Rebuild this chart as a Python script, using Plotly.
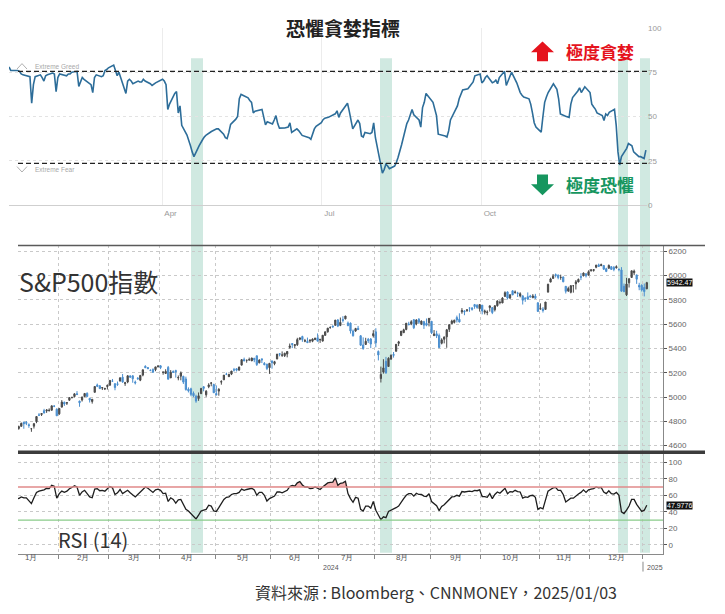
import numpy as np
import pandas as pd
import plotly.graph_objects as go

W, H = 725, 614


def px(x):
    return x / W


def py(y):
    return 1 - y / H


# ---------------------------------------------------------------- data
holidays = ["2024-01-15", "2024-02-19", "2024-03-29", "2024-05-27", "2024-06-19",
            "2024-07-04", "2024-09-02", "2024-11-28", "2024-12-25", "2025-01-01"]
days = pd.bdate_range("2024-01-02", "2025-01-03")
days = days[~days.isin(pd.to_datetime(holidays))]

# CNN fear & greed index, 2024-01-04 .. 2025-01-03
fg_values = [
    78, 76, 76, 76, 75.5, 74, 73.5, 72.5, 57.5, 68, 72.5, 73.5, 72, 70, 73, 73.5, 74.5, 74, 64,
    72, 74, 73, 73, 74, 74, 75, 75.5, 67, 70, 72, 71, 68, 63.5, 72, 73.5, 72.5, 73, 76, 76.5,
    77.5, 79, 76, 73, 75, 72, 63, 70, 71, 70, 68.5, 70, 69.5, 69.5, 71, 70, 68.5, 67.5, 68.5, 69,
    71, 70, 68, 54, 57, 63, 64, 52, 56, 45, 39.5, 37, 33.5, 30, 27.3, 33.5, 35.5, 37, 38.5, 39.5, 41.5, 42,
    42.5, 43, 43, 40, 38, 37.5, 41, 45.5, 48.5, 50, 60, 62.5, 62, 60.5, 59, 58, 52, 53, 54, 50, 45.3, 47,
    45.8, 48, 50.5, 46, 43.4, 43.5, 43.8, 44, 46.4, 41, 43, 42, 39.3, 39, 38, 37.1, 40, 43, 44.5,
    46.5, 48.2, 49, 49.5, 50.8, 51.5, 53.2, 49.5, 52, 56, 57.5, 53, 48, 43, 48, 46, 39, 38.4, 41, 40.3, 41, 46.4,
    38, 33, 18, 20, 23, 22, 20.5, 22, 24, 27, 30, 34, 46, 48, 51, 54, 51, 48, 44, 55, 58, 63,
    58, 54, 50.5, 40, 39.5, 39, 38.4, 42, 48, 54, 56, 60, 63, 65, 65.7, 67, 68.5, 69.5, 73, 74,
    69, 70, 72, 73, 69, 69.5, 70.5, 68.5, 72, 75.5, 67.5, 70, 73, 75, 69, 66, 63.5, 62, 61, 60, 57, 52, 46.5,
    44, 41.2, 50, 58, 61, 63.5, 68.5, 67, 65.3, 60, 51.4, 50.1, 49.8, 49.5, 57, 60.7, 64.4, 66.2, 63.5, 66.8,
    63.5, 57, 55.5, 54.2, 52, 50.5, 47.7, 51.4, 50.5, 52.3, 54, 45, 30, 22.6, 27.3, 32, 34.7, 33.5, 30, 27.3, 27.3,
    26.3, 31,
]

# S&P 500 daily bars, 2024-01-02 .. 2025-01-03
sp_open = [
    4745, 4726, 4697, 4690, 4703, 4742, 4759, 4792, 4792, 4772, 4739, 4760, 4797, 4853, 4856, 4888, 4886, 4888, 4892, 4926, 4900,
    4862, 4917, 4957, 4950, 4974, 4996, 5004, 5027, 4967, 4976, 5004, 5031, 4989, 4964, 5039, 5100, 5093, 5074, 5067, 5086,
    5098, 5131, 5110, 5109, 5132, 5164, 5111, 5124, 5174, 5175, 5124, 5154, 5139, 5181, 5254, 5243, 5219, 5228, 5226, 5248,
    5257, 5204, 5194, 5244, 5158, 5212, 5218, 5157, 5172, 5171, 5149, 5065, 5068, 5031, 5006, 4988, 5028, 5085, 5019, 5085, 5114, 5103,
    5029, 5049, 5123, 5142, 5188, 5168, 5189, 5225, 5233, 5222, 5263, 5310, 5303, 5305, 5298, 5319, 5340, 5282, 5315, 5278, 5271, 5243,
    5297, 5275, 5314, 5357, 5344, 5341, 5354, 5409, 5441, 5424, 5431, 5476, 5499, 5460, 5459, 5461, 5460, 5473, 5488,
    5471, 5461, 5508, 5537, 5572, 5584, 5591, 5635, 5590, 5638, 5644, 5610, 5609, 5544, 5544, 5566, 5505, 5429, 5433, 5476, 5478, 5505,
    5537, 5376, 5152, 5206, 5294, 5252, 5313, 5351, 5377, 5442, 5508, 5530, 5557, 5602, 5603, 5637, 5602, 5640, 5602, 5621, 5607, 5613,
    5624, 5506, 5521, 5507, 5443, 5476, 5496, 5558, 5604, 5615, 5655, 5641, 5702, 5709, 5711, 5733, 5733, 5762, 5756, 5727,
    5757, 5698, 5696, 5737, 5737, 5719, 5752, 5778, 5775, 5829, 5866, 5816, 5875, 5860, 5857, 5833, 5834, 5817, 5827, 5833, 5819, 5832, 5776,
    5724, 5725, 5722, 5864, 5947, 5977, 6009, 6004, 5985, 5989, 5912, 5874, 5863, 5917, 5933, 5948, 5992, 6000, 6015, 6004,
    6040, 6042, 6069, 6089, 6082, 6083, 6057, 6060, 6074, 6068, 6064, 6053, 6047, 5913, 5842, 5941, 5985, 6024, 6006, 5920, 5920,
    5903, 5892,
]
sp_high = [
    4755, 4729, 4727, 4722, 4764, 4765, 4790, 4798, 4802, 4783, 4744, 4785, 4843, 4868, 4866, 4903, 4898, 4907, 4929, 4932, 4907,
    4906, 4975, 4963, 4957, 4999, 5000, 5031, 5049, 4970, 5003, 5033, 5039, 4994, 4983, 5087, 5111, 5097, 5081, 5077, 5104,
    5140, 5149, 5114, 5128, 5165, 5190, 5125, 5179, 5180, 5180, 5136, 5165, 5181, 5226, 5261, 5246, 5229, 5236, 5249, 5264,
    5263, 5209, 5229, 5256, 5222, 5219, 5225, 5178, 5211, 5175, 5168, 5080, 5077, 5046, 5019, 5038, 5076, 5089, 5057, 5114, 5123, 5110,
    5096, 5073, 5139, 5181, 5201, 5191, 5215, 5240, 5237, 5251, 5311, 5325, 5305, 5325, 5324, 5323, 5341, 5311, 5315, 5288, 5274, 5281,
    5302, 5298, 5354, 5362, 5376, 5365, 5375, 5441, 5441, 5433, 5488, 5490, 5505, 5479, 5490, 5472, 5483, 5491, 5524,
    5479, 5510, 5540, 5570, 5583, 5590, 5635, 5642, 5655, 5666, 5669, 5622, 5614, 5556, 5570, 5586, 5509, 5492, 5488, 5487, 5486, 5551,
    5567, 5384, 5251, 5312, 5331, 5328, 5351, 5371, 5436, 5463, 5544, 5563, 5608, 5620, 5633, 5643, 5641, 5651, 5631, 5628, 5647, 5651,
    5626, 5552, 5546, 5523, 5484, 5497, 5561, 5600, 5637, 5637, 5671, 5690, 5733, 5716, 5720, 5736, 5741, 5767, 5765, 5765,
    5757, 5720, 5714, 5753, 5739, 5757, 5796, 5796, 5823, 5871, 5870, 5846, 5879, 5878, 5867, 5863, 5834, 5817, 5862, 5842, 5848, 5850, 5780,
    5772, 5741, 5783, 5933, 5983, 6013, 6018, 6010, 6008, 5993, 5915, 5909, 5922, 5920, 5964, 5976, 6020, 6026, 6020, 6044,
    6053, 6052, 6089, 6099, 6099, 6088, 6065, 6092, 6079, 6079, 6085, 6058, 6070, 5935, 5982, 5979, 6041, 6050, 6007, 5941, 5929,
    5935, 5949,
]
sp_low = [
    4723, 4700, 4687, 4682, 4700, 4731, 4756, 4739, 4769, 4747, 4714, 4741, 4785, 4844, 4844, 4866, 4870, 4881, 4888, 4917, 4845,
    4853, 4917, 4927, 4935, 4970, 4988, 4998, 5016, 4920, 4963, 5000, 4999, 4955, 4946, 5039, 5082, 5068, 5058, 5058, 5062,
    5094, 5127, 5056, 5092, 5128, 5118, 5092, 5114, 5157, 5118, 5104, 5145, 5131, 5171, 5240, 5230, 5216, 5203, 5213, 5246,
    5230, 5184, 5194, 5146, 5157, 5198, 5160, 5138, 5138, 5108, 5053, 5038, 5007, 4999, 4953, 4969, 5028, 5047, 5002, 5073, 5089, 5035,
    5013, 5011, 5102, 5142, 5181, 5166, 5181, 5210, 5211, 5216, 5263, 5296, 5283, 5300, 5297, 5287, 5256, 5278, 5280, 5262, 5222, 5191,
    5234, 5262, 5311, 5335, 5331, 5330, 5327, 5399, 5403, 5404, 5421, 5468, 5455, 5452, 5447, 5446, 5452, 5470, 5460,
    5446, 5458, 5508, 5531, 5563, 5575, 5587, 5576, 5584, 5614, 5640, 5584, 5523, 5498, 5537, 5554, 5423, 5390, 5430, 5445, 5403, 5490,
    5410, 5302, 5120, 5193, 5192, 5250, 5306, 5325, 5376, 5420, 5502, 5530, 5550, 5590, 5592, 5560, 5591, 5602, 5593, 5561, 5583, 5582,
    5519, 5503, 5486, 5402, 5434, 5442, 5406, 5536, 5604, 5606, 5614, 5615, 5686, 5674, 5703, 5702, 5712, 5727, 5727, 5704,
    5681, 5681, 5674, 5704, 5683, 5705, 5745, 5764, 5774, 5828, 5804, 5808, 5840, 5852, 5824, 5821, 5762, 5784, 5800, 5823, 5814, 5810, 5703,
    5723, 5696, 5722, 5864, 5946, 5977, 5985, 5970, 5966, 5946, 5853, 5866, 5854, 5860, 5886, 5945, 5963, 5993, 5985, 6004,
    6034, 6033, 6061, 6075, 6079, 6048, 6029, 6060, 6051, 6036, 6059, 6036, 5867, 5866, 5832, 5902, 5982, 6004, 5932, 5880, 5869,
    5829, 5888,
]
sp_close = [
    4742.83, 4704.81, 4688.68, 4697.24, 4763.54, 4756.50, 4783.45, 4780.24, 4783.83, 4765.98, 4739.21, 4780.94, 4839.81, 4850.43, 4864.60, 4868.55, 4894.16, 4890.97, 4927.93, 4924.97, 4845.65,
    4906.19, 4958.61, 4942.81, 4954.23, 4995.06, 4997.91, 5026.61, 5021.84, 4953.17, 5000.62, 5029.73, 5005.57, 4975.51, 4981.80, 5087.03, 5088.80, 5069.53, 5078.18, 5069.76, 5096.27,
    5137.08, 5130.95, 5078.65, 5104.76, 5157.36, 5123.69, 5117.94, 5175.27, 5165.31, 5150.48, 5117.09, 5149.42, 5178.51, 5224.62, 5241.53, 5234.18, 5218.19, 5203.58, 5248.49, 5254.35,
    5243.77, 5205.81, 5211.49, 5147.21, 5204.34, 5202.39, 5209.91, 5160.64, 5199.06, 5123.41, 5061.82, 5051.41, 5022.21, 5011.12, 4967.23, 5010.60, 5070.55, 5071.63, 5048.42, 5099.96, 5116.17, 5035.69,
    5018.39, 5064.20, 5127.79, 5180.74, 5187.70, 5187.67, 5214.08, 5222.68, 5221.42, 5246.68, 5308.15, 5297.10, 5303.27, 5308.13, 5321.41, 5307.01, 5267.84, 5304.72, 5306.04, 5266.95, 5235.48, 5277.51,
    5283.40, 5291.34, 5354.03, 5352.96, 5346.99, 5360.79, 5375.32, 5421.03, 5433.74, 5431.60, 5473.23, 5487.03, 5473.17, 5464.62, 5447.87, 5469.30, 5477.90, 5482.87, 5460.48,
    5475.09, 5509.01, 5537.02, 5567.19, 5572.85, 5576.98, 5633.91, 5584.54, 5615.35, 5631.22, 5667.20, 5588.27, 5544.59, 5505.00, 5564.41, 5555.74, 5427.13, 5399.22, 5459.10, 5463.54, 5436.44, 5522.30,
    5446.68, 5346.56, 5186.33, 5240.03, 5199.50, 5319.31, 5344.16, 5344.39, 5434.43, 5455.21, 5543.22, 5554.25, 5608.25, 5597.12, 5620.85, 5570.64, 5634.61, 5616.84, 5625.80, 5592.18, 5591.96, 5648.40,
    5528.93, 5520.07, 5503.41, 5408.42, 5471.05, 5495.52, 5554.13, 5595.76, 5626.02, 5633.09, 5634.58, 5618.26, 5713.64, 5702.55, 5718.57, 5732.93, 5722.26, 5745.37, 5738.17, 5762.48,
    5708.75, 5709.54, 5699.94, 5751.07, 5695.94, 5751.13, 5792.04, 5780.05, 5815.03, 5859.85, 5815.26, 5842.47, 5841.47, 5864.67, 5853.98, 5851.20, 5797.42, 5809.86, 5808.12, 5823.52, 5832.92, 5813.67, 5705.45,
    5728.80, 5712.69, 5782.76, 5929.04, 5973.10, 5995.54, 6001.35, 5983.99, 5985.38, 5949.17, 5870.62, 5893.62, 5916.98, 5917.11, 5948.71, 5969.34, 5987.37, 6021.63, 5998.74, 6032.38,
    6047.15, 6049.88, 6086.49, 6075.11, 6090.27, 6052.85, 6034.91, 6084.19, 6051.25, 6051.09, 6074.08, 6050.61, 5872.16, 5867.08, 5930.85, 5974.07, 6040.04, 6037.59, 5970.84, 5906.94, 5881.63,
    5868.55, 5942.47,
]

# RSI (14), same days
rsi_values = [
    58, 54, 52, 53, 57, 56, 58, 57, 57, 54, 50, 57, 63.5, 65, 66, 66.5, 68.5, 68, 72, 71, 56.5,
    62, 65, 63.5, 65, 68, 69.5, 71.5, 70, 60, 64, 66, 62, 58, 57, 67.5, 68, 65.5, 66, 65, 68,
    70.5, 69, 61, 63, 67, 62, 64, 66, 63, 61, 58, 61, 64, 67.5, 70, 68.5, 66, 63.5, 66.5, 67.5,
    66, 62, 62.5, 52.5, 57, 55, 50.5, 54.5, 55, 48, 43, 41, 38, 35.5, 31.5, 36, 41, 42, 43, 48, 47, 41,
    40.5, 45, 50, 55, 57.5, 58, 61, 62, 62, 63.5, 67.5, 66, 67, 67.5, 68.5, 66.5, 60, 63.5, 63.5, 60, 53, 56,
    58, 59, 64, 64, 63, 64.5, 66, 70.5, 72, 71, 75, 76.5, 72.5, 70, 70, 68, 68.5, 70, 68,
    67, 70, 72.5, 75, 75.5, 76, 81, 72, 74.5, 75, 77, 62, 56, 51.5, 57.5, 56.5, 43, 41, 47, 47, 44.5, 52.5,
    42, 37, 30.5, 34, 33, 40.5, 42, 42.5, 45, 47, 52, 56, 60, 62, 62, 59, 62.5, 61, 61, 59, 58.5, 62,
    52.5, 50, 47.5, 41.5, 46.5, 48.5, 52, 55, 58, 58.5, 60, 59, 64.5, 64, 64.5, 65, 64.5, 66, 65.5, 66.5,
    58.5, 58.5, 57.5, 62, 56, 61, 64, 62.5, 65.5, 68.5, 62, 64.5, 64, 66, 64.5, 64, 56.5, 58, 57.5, 59.5, 60, 57.5, 43,
    45, 43.5, 55, 65, 67, 69, 69.5, 66, 66, 61, 52, 54, 56.5, 56.5, 59.5, 61.5, 63.5, 66.5, 63.5, 66.5,
    67.5, 68, 70, 69, 69.5, 64, 62, 65.5, 62, 61.5, 63.5, 60, 40, 38, 42, 47, 55, 55, 49, 44, 40.5,
    42, 47.9776,
]

month_labels = ["1月", "2月", "3月", "4月", "5月", "6月", "7月", "8月", "9月", "10月", "11月", "12月"]
fg_tick_dates = ["2024-04-01", "2024-07-01", "2024-10-01"]
fg_tick_text = ["Apr", "Jul", "Oct"]

# highlighted periods (pixel columns on the picture)
bands_px = [(191, 203), (380, 392), (618, 628), (640, 650)]

# ---------------------------------------------------------------- helpers
idx = np.arange(len(days))
mkey = np.array(days.year * 100 + days.month)
bounds = [i - 0.5 for i in range(1, len(days)) if mkey[i] != mkey[i - 1]]
centers = [idx[mkey == k].mean() for k in sorted(set(mkey)) if k < 202500]
fg_dates = days[2:]
rsi_arr = np.array(rsi_values)


def path_px(points):
    s = "M " + " L ".join("%.5f,%.5f" % (px(x), py(y)) for x, y in points)
    return s + " Z"


CJK = "Noto Sans CJK TC"
NARROW = "Liberation Sans Narrow, Arial Narrow, Liberation Sans, sans-serif"

fig = go.Figure()

# fear & greed line
fig.add_trace(go.Scatter(x=fg_dates, y=fg_values, mode="lines",
                         line=dict(color="#2d6d99", width=1.6),
                         xaxis="x", yaxis="y", hoverinfo="skip"))

# S&P 500 bars
fig.add_trace(go.Candlestick(x=idx, open=sp_open, high=sp_high, low=sp_low, close=sp_close,
                             xaxis="x2", yaxis="y2", whiskerwidth=0,
                             increasing=dict(line=dict(color="#4a4a4a", width=1), fillcolor="#4a4a4a"),
                             decreasing=dict(line=dict(color="#4b8fcf", width=1), fillcolor="#4b8fcf"),
                             hoverinfo="skip"))

# RSI overbought shading
fig.add_trace(go.Scatter(x=idx, y=[70] * len(idx), mode="lines", line=dict(width=0),
                         xaxis="x3", yaxis="y3", hoverinfo="skip"))
fig.add_trace(go.Scatter(x=idx, y=np.maximum(rsi_arr, 70), mode="lines", line=dict(width=0),
                         fill="tonexty", fillcolor="rgba(236,120,120,0.55)",
                         xaxis="x3", yaxis="y3", hoverinfo="skip"))
fig.add_trace(go.Scatter(x=idx, y=rsi_values, mode="lines",
                         line=dict(color="#1e1e1e", width=1.3),
                         xaxis="x3", yaxis="y3", hoverinfo="skip"))

shapes = []
for x0, x1 in bands_px:
    shapes.append(dict(type="rect", xref="paper", yref="paper", x0=px(x0), x1=px(x1),
                       y0=py(557), y1=py(55), fillcolor="#d0e9e1", line=dict(width=0),
                       layer="below"))
# extreme greed / fear thresholds
for yv in (75.5, 23.5):
    shapes.append(dict(type="line", xref="paper", yref="y", x0=px(18), x1=px(647), y0=yv, y1=yv,
                       line=dict(color="#222222", width=1.2, dash="5px,3px")))
# chevrons
shapes.append(dict(type="path", xref="paper", yref="paper",
                   path="M %.5f,%.5f L %.5f,%.5f L %.5f,%.5f" % (px(17), py(66), px(22), py(60.5), px(27), py(66)),
                   line=dict(color="#b0b0b0", width=1)))
shapes.append(dict(type="path", xref="paper", yref="paper",
                   path="M %.5f,%.5f L %.5f,%.5f L %.5f,%.5f" % (px(17), py(165), px(22), py(170.5), px(27), py(165)),
                   line=dict(color="#b0b0b0", width=1)))
# arrows
shapes.append(dict(type="path", xref="paper", yref="paper", fillcolor="#e5131d", line=dict(width=0),
                   path=path_px([(531, 49), (542.5, 38), (554, 49), (548, 49), (548, 58), (537, 58), (537, 49)])))
shapes.append(dict(type="path", xref="paper", yref="paper", fillcolor="#16965f", line=dict(width=0),
                   path=path_px([(537, 173), (548, 173), (548, 183), (554, 183), (542.5, 194), (531, 183), (537, 183)])))
# frame lines of the Bloomberg panels
shapes.append(dict(type="line", xref="paper", yref="paper", x0=px(18), x1=px(705), y0=py(245), y1=py(245),
                   line=dict(color="#5a5a5a", width=1.5)))
shapes.append(dict(type="line", xref="paper", yref="paper", x0=px(18), x1=px(705), y0=py(455), y1=py(455),
                   line=dict(color="#3c3c3c", width=3.5)))
# RSI reference lines
shapes.append(dict(type="line", xref="x3 domain", yref="y3", x0=0, x1=1, y0=70, y1=70,
                   line=dict(color="#e08a8a", width=1.3)))
shapes.append(dict(type="line", xref="x3 domain", yref="y3", x0=0, x1=1, y0=30, y1=30,
                   line=dict(color="#8acb8a", width=1.3)))
shapes.append(dict(type="line", xref="x3", yref="paper", x0=bounds[-1], x1=bounds[-1], y0=py(566), y1=py(576),
                   line=dict(color="#888888", width=1)))

annotations = [
    dict(text="<b>恐懼貪婪指標</b>", x=px(343), y=py(24), font=dict(family=CJK, size=19, color="#222222")),
    dict(text="<b>極度貪婪</b>", x=px(600), y=py(48), font=dict(family=CJK, size=17, color="#e5131d")),
    dict(text="<b>極度恐懼</b>", x=px(600), y=py(183), font=dict(family=CJK, size=17, color="#16965f")),
    dict(text="Extreme Greed", x=px(33), y=py(63), xanchor="left",
         font=dict(family="Liberation Sans", size=6.5, color="#a8a8a8")),
    dict(text="Extreme Fear", x=px(33), y=py(168), xanchor="left",
         font=dict(family="Liberation Sans", size=6.5, color="#a8a8a8")),
    dict(text="S&P500指數", x=px(17), y=py(281), xanchor="left",
         font=dict(family=CJK, size=25, color="#333333")),
    dict(text="RSI (14)", x=px(56), y=py(543), xanchor="left",
         font=dict(family=CJK, size=20, color="#333333")),
    dict(text="2024", x=px(331), y=py(572), font=dict(family=NARROW, size=7, color="#555555")),
    dict(text="2025", xref="x3", x=bounds[-1] + 0.8, y=py(572), xanchor="left",
         font=dict(family=NARROW, size=7, color="#555555")),
    dict(text="%.2f" % sp_close[-1], x=px(666), xanchor="left", yref="y2", y=sp_close[-1],
         bgcolor="#111111", borderpad=0, font=dict(family=NARROW, size=7, color="#ffffff")),
    dict(text="%.4f" % rsi_values[-1], x=px(666), xanchor="left", yref="y3", y=rsi_values[-1],
         bgcolor="#111111", borderpad=0, font=dict(family=NARROW, size=7, color="#ffffff")),
    dict(text="資料來源 : Bloomberg、CNNMONEY，2025/01/03", x=px(436), y=py(597),
         font=dict(family=CJK, size=16, color="#333333")),
]
for c, lab in zip(centers, month_labels):
    annotations.append(dict(text=lab, xref="x3", x=c, y=py(562),
                            font=dict(family=NARROW, size=8, color="#555555")))
for a in annotations:
    a.setdefault("xref", "paper")
    a.setdefault("yref", "paper")
    a.setdefault("xanchor", "center")
    a.setdefault("yanchor", "middle")
    a["showarrow"] = False

small_grey = dict(family="Liberation Sans", size=8, color="#9a9a9a")
bb_font = dict(family=NARROW, size=8, color="#666666")

fig.update_layout(
    width=W, height=H,
    margin=dict(l=0, r=0, t=0, b=0),
    paper_bgcolor="white", plot_bgcolor="rgba(0,0,0,0)",
    showlegend=False,
    shapes=shapes, annotations=annotations,
    xaxis=dict(domain=[px(9), px(647)], anchor="y", type="date",
               range=["2024-01-04", "2025-01-03 15:30"],
               tickmode="array", tickvals=fg_tick_dates, ticktext=fg_tick_text,
               ticklabelshift=8, tickfont=small_grey, ticks="",
               showgrid=True, gridcolor="#ececec", gridwidth=1,
               showline=True, linecolor="#cfcfcf", zeroline=False),
    yaxis=dict(domain=[py(204), py(24.3)], anchor="x", range=[0, 100], side="right",
               tickmode="array", tickvals=[0, 25, 50, 75, 100], tickfont=small_grey,
               showgrid=True, gridcolor="#e3e3e3", griddash="dot", zeroline=False, showline=False),
    xaxis2=dict(domain=[px(18), px(663)], anchor="y2", range=[4.7, 259.4],
                tickmode="array", tickvals=bounds, showticklabels=False, ticks="",
                showgrid=True, gridcolor="#c9c9c9", griddash="dot", zeroline=False,
                rangeslider=dict(visible=False)),
    yaxis2=dict(domain=[py(454), py(245)], anchor="x2", range=[4553, 6249], side="right",
                tickmode="array", tickvals=list(range(4600, 6201, 200)), tickfont=bb_font,
                ticks="outside", ticklen=3, tickcolor="#555555",
                showgrid=True, gridcolor="#c9c9c9", griddash="dot", zeroline=False,
                showline=True, linecolor="#888888"),
    xaxis3=dict(domain=[px(18), px(663)], anchor="y3", range=[4.7, 259.4],
                tickmode="array", tickvals=bounds, showticklabels=False,
                ticks="outside", ticklen=4, tickcolor="#888888",
                showgrid=True, gridcolor="#c9c9c9", griddash="dot", zeroline=False,
                showline=True, linecolor="#8a8a8a"),
    yaxis3=dict(domain=[py(558), py(456)], anchor="x3", range=[-10.7, 110.7], side="right",
                tickmode="array", tickvals=[0, 20, 40, 60, 80, 100], tickfont=bb_font,
                ticks="outside", ticklen=3, tickcolor="#555555",
                showgrid=True, gridcolor="#c9c9c9", griddash="dot", zeroline=False,
                showline=True, linecolor="#888888"),
)

fig.write_html("out.html", config={"displayModeBar": False},
               post_script="document.body.style.margin='0';document.body.style.overflow='hidden';")
